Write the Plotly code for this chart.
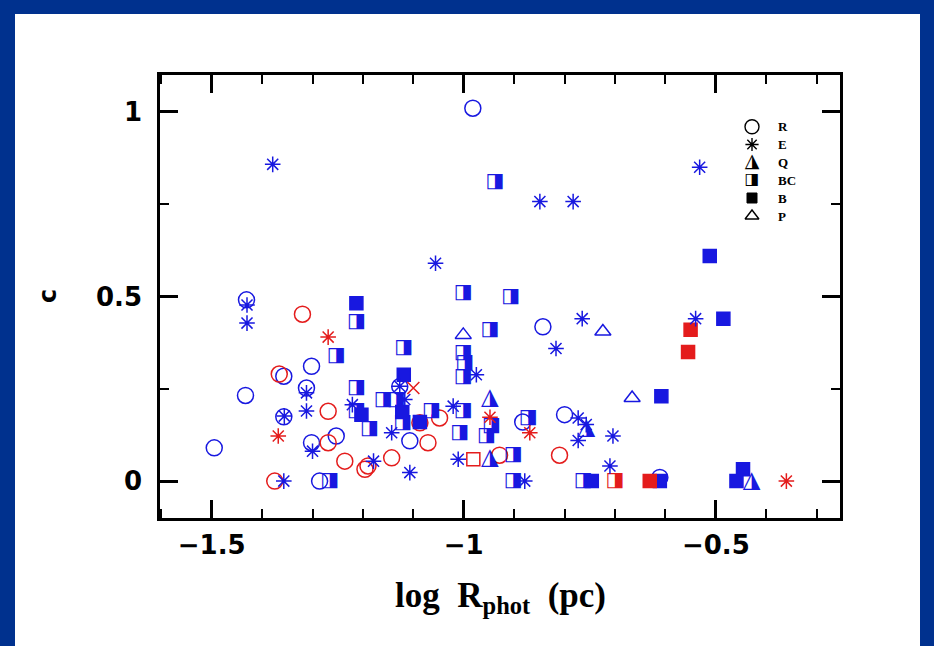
import plotly.graph_objects as go

BLUE = "#1818e0"
RED = "#e41c1c"

# ---- data (log R_phot, c) ----
R_blue_x = [-0.982, -1.495, -1.431, -1.433, -1.302, -1.357, -1.312, -1.357, -1.302, -1.253,
            -1.286, -1.127, -1.107, -0.843, -0.800, -0.883, -0.611]
R_blue_y = [1.01, 0.09, 0.491, 0.232, 0.311, 0.284, 0.252, 0.174, 0.104, 0.122,
            0.0, 0.256, 0.109, 0.418, 0.18, 0.16, 0.01]

R_red_x = [-1.320, -1.366, -1.269, -1.269, -1.236, -1.196, -1.190, -1.143, -1.087, -1.071,
           -1.048, -1.375, -0.929, -0.810]
R_red_y = [0.452, 0.29, 0.189, 0.104, 0.054, 0.032, 0.041, 0.063, 0.158, 0.104,
           0.171, 0.0, 0.07, 0.07]

E_blue_x = [-1.379, -1.056, -0.849, -0.783, -0.532, -1.430, -1.430, -0.765, -0.817, -0.540,
            -0.975, -0.773, -0.757, -0.773, -0.704, -0.710, -0.879, -1.221, -1.143, -1.179,
            -1.107, -1.021, -1.011, -1.127, -1.117, -1.312, -1.312, -1.356, -1.300, -1.357]
E_blue_y = [0.858, 0.59, 0.757, 0.757, 0.85, 0.477, 0.428, 0.44, 0.359, 0.44,
            0.288, 0.171, 0.153, 0.11, 0.122, 0.041, 0.0, 0.207, 0.131, 0.054,
            0.023, 0.203, 0.059, 0.257, 0.221, 0.239, 0.19, 0.176, 0.081, 0.0]

E_red_x = [-1.269, -1.368, -0.948, -0.869, -0.360]
E_red_y = [0.39, 0.122, 0.173, 0.131, 0.0]

X_red_x = [-1.100]
X_red_y = [0.252]

BC_blue_x = [-0.938, -1.001, -0.907, -0.948, -1.213, -1.253, -1.119, -1.213, -1.213, -1.187,
             -1.160, -1.134, -1.121, -1.064, -1.001, -0.998, -1.001, -1.001, -1.008, -0.945,
             -0.955, -0.902, -0.872, -0.902, -0.763, -1.266]
BC_blue_y = [0.811, 0.509, 0.50, 0.41, 0.43, 0.338, 0.36, 0.252, 0.19, 0.14,
             0.219, 0.221, 0.158, 0.191, 0.347, 0.32, 0.281, 0.19, 0.131, 0.149,
             0.122, 0.07, 0.171, 0.0, 0.0, 0.0]

BC_red_x = [-0.700]
BC_red_y = [0.0]

SQ_red_x = [-0.981]
SQ_red_y = [0.059]

B_blue_x = [-0.512, -0.485, -0.608, -0.446, -0.459, -1.213, -1.119, -1.087, -0.746, -0.611,
            -1.122, -1.203]
B_blue_y = [0.61, 0.44, 0.23, 0.032, 0.0, 0.482, 0.288, 0.16, 0.0, 0.0,
            0.187, 0.18]

B_red_x = [-0.550, -0.555, -0.631]
B_red_y = [0.41, 0.35, 0.0]

P_blue_x = [-0.724, -0.666, -1.001]
P_blue_y = [0.405, 0.225, 0.396]

Q_blue_x = [-0.948, -0.757, -0.948, -0.429]
Q_blue_y = [0.225, 0.144, 0.063, 0.0]

legend_labels = ["R", "E", "Q", "BC", "B", "P"]

x_ticks = [-1.5, -1, -0.5]
x_tick_text = ["\u22121.5", "\u22121", "\u22120.5"]
y_ticks = [0, 0.5, 1]
y_tick_text = ["0", "0.5", "1"]

# ---- layout geometry ----
L, R, T, B = 160, 94, 75, 128
PW, PH = 934 - L - R, 646 - T - B


def px(xp):
    return (xp - L) / PW


def py(yp):
    return (646 - B - yp) / PH


fig = go.Figure()


def add_markers(x, y, symbol, color, size, lw=1.5, axes=("x", "y")):
    fig.add_trace(go.Scatter(
        x=x, y=y, mode="markers", showlegend=False, hoverinfo="x+y",
        xaxis=axes[0], yaxis=axes[1],
        marker=dict(symbol=symbol, size=size, color=color,
                    line=dict(color=color, width=lw))))


def add_glyphs(x, y, glyph, color, size, axes=("x", "y")):
    fig.add_trace(go.Scatter(
        x=x, y=y, mode="text", text=[glyph] * len(x), showlegend=False,
        textposition="middle center", hoverinfo="x+y",
        xaxis=axes[0], yaxis=axes[1],
        textfont=dict(family="DejaVu Sans", size=size, color=color)))


add_markers(R_blue_x, R_blue_y, "circle-open", BLUE, 16)
add_markers(R_red_x, R_red_y, "circle-open", RED, 16)
add_glyphs(BC_blue_x, BC_blue_y, "\u25E8", BLUE, 20)
add_glyphs(BC_red_x, BC_red_y, "\u25E8", RED, 20)
add_markers(SQ_red_x, SQ_red_y, "square-open", RED, 13)
add_markers(B_blue_x, B_blue_y, "square", BLUE, 13)
add_markers(B_red_x, B_red_y, "square", RED, 13)
add_markers(P_blue_x, P_blue_y, "triangle-up-open", BLUE, 14)
add_glyphs(Q_blue_x, Q_blue_y, "\u25EE", BLUE, 23)
add_markers(E_blue_x, E_blue_y, "asterisk-open", BLUE, 13)
add_markers(E_red_x, E_red_y, "asterisk-open", RED, 13)
add_markers(X_red_x, X_red_y, "x-thin-open", RED, 12)

# ---- key (black symbols on an overlay axis spanning the plot area) ----
key_x = px(752)
key_rows = [py(v) for v in (126.7, 144.5, 162.0, 180.0, 198.0, 216.0)]
LG = ("x2", "y2")
add_markers([key_x], [key_rows[0]], "circle-open", "black", 14, 1.4, LG)
add_markers([key_x], [key_rows[1]], "asterisk-open", "black", 11, 1.4, LG)
add_glyphs([key_x], [key_rows[2]], "\u25EE", "black", 19, LG)
add_glyphs([key_x], [key_rows[3]], "\u25E8", "black", 16, LG)
add_markers([key_x], [key_rows[4]], "square", "black", 10, 1, LG)
add_markers([key_x], [key_rows[5]], "triangle-up-open", "black", 12, 1.4, LG)
for lab, ry in zip(legend_labels, key_rows):
    fig.add_annotation(xref="paper", yref="paper", x=px(776), y=ry,
                       text=lab, showarrow=False, xanchor="left", yanchor="middle",
                       font=dict(family="Liberation Serif", size=13, color="black",
                                 weight="bold"))

# white panel on the blue page
fig.add_shape(type="rect", xref="paper", yref="paper",
              x0=px(15), x1=px(920), y0=py(700), y1=py(14),
              fillcolor="white", line=dict(width=0), layer="below")

# axis titles
fig.add_annotation(xref="paper", yref="paper", x=0.5, y=py(597),
                   text="log\u00a0\u00a0R<sub>phot</sub>\u00a0\u00a0(pc)", showarrow=False,
                   xanchor="center", yanchor="middle",
                   font=dict(family="Liberation Serif", size=35, color="black", weight="bold"))
fig.add_annotation(xref="paper", yref="paper", x=px(48), y=py(296),
                   text="c", showarrow=False, textangle=-90,
                   xanchor="center", yanchor="middle",
                   font=dict(family="DejaVu Sans", size=24, color="black", weight="bold"))

axis_common = dict(showline=True, linecolor="black", linewidth=2.5, mirror="ticks",
                   ticks="inside", tickcolor="black", tickwidth=2.5, ticklen=18,
                   showgrid=False, zeroline=False,
                   tickfont=dict(family="DejaVu Sans", size=26, color="black", weight="bold"))

fig.update_layout(
    xaxis=dict(range=[-1.6026, -0.2536], tickvals=x_ticks, ticktext=x_tick_text,
               ticklabelstandoff=2,
               minor=dict(dtick=0.1, tick0=0, ticks="inside", ticklen=9, tickwidth=2,
                          tickcolor="black", showgrid=False),
               **axis_common),
    yaxis=dict(range=[-0.1, 1.1], tickvals=y_ticks, ticktext=y_tick_text,
               ticklabelstandoff=10,
               minor=dict(dtick=0.25, tick0=0, ticks="inside", ticklen=9, tickwidth=2,
                          tickcolor="black", showgrid=False),
               **axis_common),
    xaxis2=dict(overlaying="x", range=[0, 1], visible=False, fixedrange=True),
    yaxis2=dict(overlaying="y", range=[0, 1], visible=False, fixedrange=True),
    width=934, height=646, margin=dict(l=L, r=R, t=T, b=B),
    paper_bgcolor="#00318e", plot_bgcolor="white", showlegend=False)

fig.write_html("out.html",
               config={"displayModeBar": False},
               post_script="document.body.style.margin='0';"
                           "document.body.style.overflow='hidden';")
